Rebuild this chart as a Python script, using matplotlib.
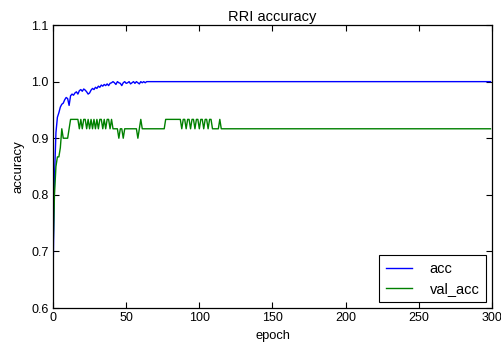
import matplotlib
matplotlib.use("Agg")
import matplotlib.pyplot as plt
import numpy as np

plt.rcParams['font.family'] = ['Liberation Sans', 'DejaVu Sans']

h, m, l = 0.9333, 0.9167, 0.9

acc_head = [0.65, 0.83, 0.91, 0.937, 0.945, 0.955, 0.96, 0.962, 0.968, 0.972,
            0.97, 0.958, 0.975, 0.978, 0.976, 0.98, 0.982, 0.978, 0.984, 0.986,
            0.983, 0.987, 0.985, 0.982, 0.978, 0.980, 0.985, 0.988, 0.986, 0.99,
            0.988, 0.992, 0.99, 0.994, 0.992, 0.995, 0.993, 0.996, 0.993, 0.997,
            0.998, 1.0, 0.998, 0.995, 1.0, 0.998, 0.997, 0.993, 0.998, 1.0,
            0.997, 0.998, 1.0, 0.996, 0.998, 1.0, 0.997, 1.0, 0.998, 0.996,
            1.0, 0.998, 1.0, 0.998, 1.0]
acc_tail = [1.0] * (300 - len(acc_head))
acc = acc_head + acc_tail

val_head = [0.70, 0.80, 0.85, 0.867, 0.867, 0.883, m, l, l, l,
            l, m, h, h, h, h, h, h, m, h,
            m, h, h, m, h, m, h, m, h, m,
            h, m, h, h, m, h, m, h, h, m,
            h, m, m, m, m, l, m, m, l, m,
            m, m, m, m, m, m, m, m, l, m,
            h, m, m, m, m, m, m, m, m, m,
            m, m, m, m, m, m, m, h, h, h,
            h, h, h, h, h, h, h, h, m, h,
            h, m, h, h, m, h, h, m, h, h,
            m, h, h, m, h, h, m, h, h, m,
            m, m, m, m, h, m]
val_tail = [m] * (300 - len(val_head))
val_acc = val_head + val_tail

epochs = np.arange(300)

fig = plt.figure(figsize=(5.02, 3.43), dpi=100)
ax = fig.add_axes([0.1056, 0.102, 0.8744, 0.825])
ax.plot(epochs, acc, color='#0000ff', lw=1.0, label='acc')
ax.plot(epochs, val_acc, color='#008000', lw=1.0, label='val_acc')
ax.set_xlim(0, 300)
ax.set_ylim(0.6, 1.1)
ax.set_xticks([0, 50, 100, 150, 200, 250, 300])
ax.set_yticks([0.6, 0.7, 0.8, 0.9, 1.0, 1.1])
ax.tick_params(direction='in', top=True, right=True, length=4, width=0.8,
               labelsize=9, pad=3)
for s in ax.spines.values():
    s.set_linewidth(0.9)
ax.set_title('RRI accuracy', fontsize=10.5, pad=3)
ax.set_xlabel('epoch', fontsize=9.3, labelpad=4)
ax.set_ylabel('accuracy', fontsize=9.5, labelpad=5)
leg = ax.legend(loc='lower right', fontsize=10.5, fancybox=False, edgecolor='black',
                framealpha=1, handlelength=1.8, borderpad=0.45, labelspacing=0.4,
                handletextpad=1.2, borderaxespad=0.4)
leg.get_frame().set_linewidth(0.8)
fig.savefig('out.png', dpi=100)
